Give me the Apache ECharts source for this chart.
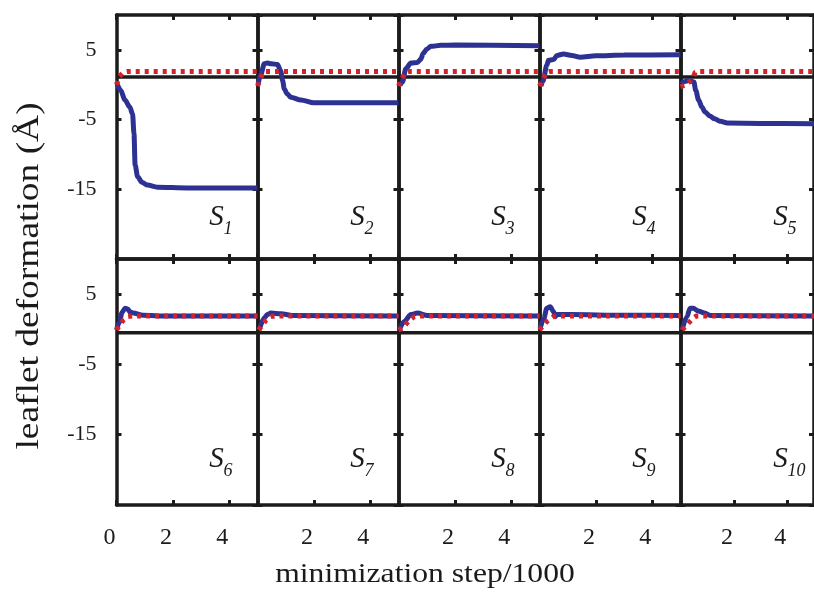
<!DOCTYPE html>
<html>
<head>
<meta charset="utf-8">
<script src="https://cdn.jsdelivr.net/npm/echarts@6/dist/echarts.min.js"></script>
<style>
  html, body { margin: 0; padding: 0; background: #ffffff; }
  #chart { width: 814px; height: 599px; }
</style>
</head>
<body>
<div id="chart"></div>
<script>
// Panel names (subscripts of S)
const panelLabels = ['1', '2', '3', '4', '5', '6', '7', '8', '9', '10'];

// Blue trajectories: [minimization step / 1000, deformation (Å)]
const s1Blue = [[0.02, 0.1], [0.15, -0.8], [0.3, -2.2], [0.47, -3.2], [0.57, -4.2], [0.62, -7.0], [0.66, -11.5], [0.75, -13.2], [0.9, -14.0], [1.1, -14.4], [1.45, -14.7], [2.5, -14.8], [5, -14.8]];
const s2Blue = [[0.02, 0.1], [0.12, 1.5], [0.24, 3.0], [0.35, 3.1], [0.5, 3.0], [0.71, 2.9], [0.82, 2.0], [0.89, 0.6], [0.95, -0.6], [1.05, -1.3], [1.18, -1.8], [1.54, -2.2], [2.0, -2.6], [5, -2.6]];
const s3Blue = [[0.05, -0.1], [0.14, 0.4], [0.26, 2.3], [0.44, 3.1], [0.67, 3.2], [0.78, 3.6], [0.88, 4.5], [1.0, 5.1], [1.15, 5.5], [1.5, 5.65], [2.0, 5.7], [5, 5.6]];
const s4Blue = [[0.05, -0.2], [0.12, 0.5], [0.26, 2.8], [0.32, 3.5], [0.5, 3.6], [0.62, 4.2], [0.85, 4.4], [1.15, 4.2], [1.44, 3.95], [2.0, 4.15], [3.0, 4.25], [5, 4.3]];
const s5Blue = [[0.05, 0.1], [0.1, 0.4], [0.33, 0.6], [0.5, 0.4], [0.57, -0.8], [0.68, -2.2], [0.8, -3.2], [0.92, -3.9], [1.1, -4.5], [1.28, -4.9], [1.5, -5.25], [1.75, -5.5], [3.0, -5.55], [5, -5.6]];
const s6Blue = [[0.0, -0.1], [0.1, 1.0], [0.2, 2.4], [0.3, 3.0], [0.4, 2.9], [0.47, 2.5], [0.59, 2.3], [0.94, 2.0], [1.5, 1.9], [5, 1.9]];
const s7Blue = [[0.06, -0.1], [0.24, 1.6], [0.35, 2.1], [0.47, 2.3], [0.83, 2.2], [1.3, 1.95], [5, 1.9]];
const s8Blue = [[0.03, -0.1], [0.2, 1.1], [0.44, 2.1], [0.67, 2.3], [1.03, 1.95], [5, 1.9]];
const s9Blue = [[0.02, 0.1], [0.15, 1.5], [0.26, 3.0], [0.38, 3.2], [0.5, 2.5], [0.56, 1.8], [0.62, 2.1], [1.09, 2.1], [3.0, 2.0], [5, 1.95]];
const s10Blue = [[0.06, -0.1], [0.24, 1.8], [0.36, 3.0], [0.48, 3.0], [0.66, 2.6], [0.9, 2.3], [1.14, 1.95], [5, 1.9]];

// Red dotted trajectories
const s1Red = [[0.0, 0.0], [0.1, 1.2], [0.25, 1.8], [0.4, 1.9], [5, 1.9]];
const s2Red = [[0.0, -0.2], [0.1, 0.8], [0.2, 1.8], [0.3, 1.9], [5, 1.9]];
const s3Red = [[0.0, -0.2], [0.12, 0.9], [0.25, 1.8], [0.35, 1.9], [5, 1.9]];
const s4Red = [[0.0, -0.2], [0.12, 0.8], [0.25, 1.8], [0.35, 1.9], [5, 1.9]];
const s5Red = [[0.0, -0.3], [0.15, -0.1], [0.3, 0.3], [0.45, 0.8], [0.55, 1.8], [0.65, 1.9], [5, 1.9]];
const s6Red = [[0.0, -0.1], [0.24, 1.3], [0.41, 1.8], [0.6, 1.9], [5, 1.9]];
const s7Red = [[0.04, -0.1], [0.3, 1.3], [0.47, 1.8], [0.6, 1.9], [5, 1.9]];
const s8Red = [[0.0, -0.1], [0.14, 0.1], [0.38, 1.3], [0.56, 1.8], [0.7, 1.9], [5, 1.9]];
const s9Red = [[0.0, -0.1], [0.26, 1.1], [0.5, 1.8], [0.6, 1.9], [5, 1.9]];
const s10Red = [[0.06, -0.1], [0.3, 0.9], [0.48, 1.6], [0.6, 1.9], [5, 1.9]];

const blueData = [s1Blue, s2Blue, s3Blue, s4Blue, s5Blue, s6Blue, s7Blue, s8Blue, s9Blue, s10Blue];
const redData = [s1Red, s2Red, s3Red, s4Red, s5Red, s6Red, s7Red, s8Red, s9Red, s10Red];

// Black reference level in each row
const baselineLevels = [1.1, -0.5];

// Axis ranges: ticks at -15, -5, 5 on y; 0, 2, 4 on x
const yMin = -25, yMax = 10, yStep = 10;
const xMin = 0, xMax = 5, xStep = 2;

const FONT = 'Liberation Serif';
const INK = '#1b1b1b';
const BLUE = '#2c3192';
const RED = '#d2232a';

const grids = [], xAxes = [], yAxes = [], series = [], graphics = [];

const axisLine = { show: true, onZero: false, lineStyle: { color: INK, width: 3.5 } };
const axisTick = { show: true, inside: true, length: 5, lineStyle: { color: INK, width: 3 } };

for (let i = 0; i < 10; i++) {
  const row = Math.floor(i / 5), col = i % 5;
  const left = 116.5 + 141 * col;
  const top = row === 0 ? 15 : 259;
  const height = row === 0 ? 244 : 246;
  grids.push({ left: left, top: top, width: 141, height: height });

  // bottom and top x axes
  xAxes.push({
    type: 'value', gridIndex: i, position: 'bottom',
    min: xMin, max: xMax, interval: xStep,
    axisLine: axisLine, axisTick: axisTick, splitLine: { show: false },
    axisLabel: {
      show: row === 1, showMinLabel: col === 0, showMaxLabel: false,
      fontSize: 24, fontFamily: FONT, color: INK, margin: 21, padding: [0, 14, 0, 0]
    }
  });
  xAxes.push({
    type: 'value', gridIndex: i, position: 'top',
    min: xMin, max: xMax, interval: xStep,
    axisLine: axisLine, axisTick: axisTick, splitLine: { show: false },
    axisLabel: { show: false }
  });
  // left and right y axes
  yAxes.push({
    type: 'value', gridIndex: i, position: 'left',
    min: yMin, max: yMax, interval: yStep,
    axisLine: axisLine, axisTick: axisTick, splitLine: { show: false },
    axisLabel: {
      show: col === 0, showMinLabel: false, showMaxLabel: false,
      fontSize: 22, fontFamily: FONT, color: INK, margin: 20
    }
  });
  yAxes.push({
    type: 'value', gridIndex: i, position: 'right',
    min: yMin, max: yMax, interval: yStep,
    axisLine: axisLine, axisTick: axisTick, splitLine: { show: false },
    axisLabel: { show: false }
  });

  const xi = 2 * i, yi = 2 * i;
  const level = baselineLevels[row];
  series.push({
    type: 'line', xAxisIndex: xi, yAxisIndex: yi,
    data: [[xMin, level], [xMax, level]],
    symbol: 'none', silent: true, animation: false,
    lineStyle: { color: INK, width: 3.5 }
  });
  series.push({
    type: 'line', xAxisIndex: xi, yAxisIndex: yi,
    data: blueData[i], smooth: 0.3, smoothMonotone: 'x',
    symbol: 'none', silent: true, animation: false,
    lineStyle: { color: BLUE, width: 5 }
  });
  series.push({
    type: 'line', xAxisIndex: xi, yAxisIndex: yi,
    data: redData[i],
    symbol: 'none', silent: true, animation: false,
    lineStyle: { color: RED, width: 5, type: [4, 5], cap: 'butt' }
  });

  // panel name S with subscript
  const sx = left + 100;
  const sy = row === 0 ? 217 : 459;
  graphics.push({
    type: 'text', x: sx, y: sy, silent: true,
    style: { text: 'S', fontSize: 29, fontStyle: 'italic', fontFamily: FONT, fill: INK, align: 'center', verticalAlign: 'middle' }
  });
  graphics.push({
    type: 'text', x: sx + 7, y: sy + 12, silent: true,
    style: { text: panelLabels[i], fontSize: 18, fontStyle: 'italic', fontFamily: FONT, fill: INK, align: 'left', verticalAlign: 'middle' }
  });
}

// axis titles
graphics.push({
  type: 'text', x: 30, y: 276, rotation: Math.PI / 2, scaleX: 1.17, silent: true,
  style: { text: 'leaflet deformation (Å)', fontSize: 32, fontFamily: FONT, fill: INK, align: 'center', verticalAlign: 'middle' }
});
graphics.push({
  type: 'text', x: 425, y: 575, scaleX: 1.13, silent: true,
  style: { text: 'minimization step/1000', fontSize: 28, fontFamily: FONT, fill: INK, align: 'center', verticalAlign: 'middle' }
});

const chart = echarts.init(document.getElementById('chart'), null, { renderer: 'canvas' });
chart.setOption({
  backgroundColor: '#ffffff',
  animation: false,
  grid: grids,
  xAxis: xAxes,
  yAxis: yAxes,
  series: series,
  graphic: graphics
});
</script>
</body>
</html>
